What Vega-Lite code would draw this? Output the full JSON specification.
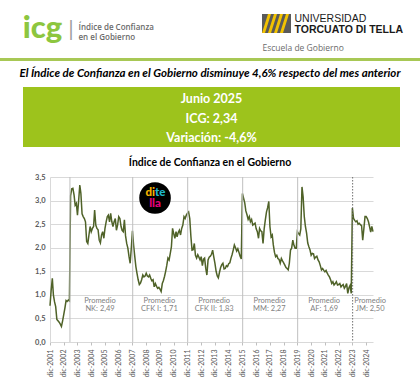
{
"$schema": "https://vega.github.io/schema/vega-lite/v6.json",
"padding": 0,
"background": "white",
"config": {"view": {"stroke": null}, "text": {"font": "Lato"}, "concat": {"spacing": 0}, "axis": {"labelOverlap": false}},
"spacing": 0,
"vconcat": [
 {"hconcat": [
   {"width": 21, "height": 58, "data": {"values": []}, "mark": "text"},
   {"width": 43, "height": 58, "data": {"values": [{"t": "icg"}]}, "mark": {"type": "text", "font": "Lato", "fontWeight": 900, "fontSize": 31, "color": "#8DC63F", "align": "center", "baseline": "middle"}, "encoding": {"text": {"field": "t"}}},
   {"width": 14, "height": 58, "data": {"values": [{"t": "|"}]}, "mark": {"type": "text", "font": "Lato", "fontSize": 22, "color": "#A0A0A0", "align": "center", "baseline": "middle"}, "encoding": {"text": {"field": "t"}}},
   {"width": 1, "height": 58, "data": {"values": [{"a": "Índice de Confianza", "b": "en el Gobierno"}]}, "layer": [
     {"mark": {"type": "text", "font": "Open Sans", "fontWeight": 600, "fontSize": 8, "letterSpacing": 0.3, "color": "#6B6B6B", "align": "left", "baseline": "line-bottom", "lineHeight": 3}, "encoding": {"text": {"field": "a"}}},
     {"mark": {"type": "text", "font": "Open Sans", "fontWeight": 600, "fontSize": 8, "letterSpacing": 0.3, "color": "#6B6B6B", "align": "left", "baseline": "line-top", "lineHeight": 18}, "encoding": {"text": {"field": "b"}}}
   ]},
   {"width": 183, "height": 58, "data": {"values": []}, "mark": "text"},
   {"width": 1, "height": 58, "data": {"values": [{"t": "Escuela de Gobierno"}]}, "layer": [
     {"mark": {"type": "point", "shape": "M-0.05,-1.5H2.85V0.4H-0.05Z", "size": 400, "filled": true, "color": "#5A5A5A", "opacity": 1}},
     {"mark": {"type": "point", "shape": "M0.55,-1.5L0.85,-1.5L0.25,0.4L-0.05,0.4ZM1.15,-1.5L1.45,-1.5L0.85,0.4L0.55,0.4ZM1.75,-1.5L2.05,-1.5L1.45,0.4L1.15,0.4ZM2.35,-1.5L2.65,-1.5L2.05,0.4L1.75,0.4Z", "size": 400, "filled": true, "color": "#F2C200", "opacity": 1}},
     {"mark": {"type": "text", "font": "Open Sans", "fontSize": 8.5, "letterSpacing": 0.6, "color": "#6B6B6B", "align": "left", "baseline": "line-top", "lineHeight": 38.5}, "encoding": {"text": {"field": "t"}}}
   ]},
   {"width": 31, "height": 58, "data": {"values": []}, "mark": "text"},
   {"width": 1, "height": 58, "data": {"values": [{"a": "UNIVERSIDAD", "b": "TORCUATO DI TELLA"}]}, "layer": [
     {"mark": {"type": "text", "font": "Liberation Sans", "fontSize": 10.5, "color": "#1A1A1A", "align": "left", "baseline": "line-bottom", "lineHeight": 19.6}, "encoding": {"text": {"field": "a"}}},
     {"mark": {"type": "text", "font": "Liberation Sans", "fontWeight": "bold", "fontSize": 10.5, "color": "#1A1A1A", "align": "left", "baseline": "line-top", "lineHeight": 2.4}, "encoding": {"text": {"field": "b"}}}
   ]}
 ], "spacing": 0, "bounds": "flush"},
 {"width": 420, "height": 3, "view": {"fill": "#A8C855"}, "data": {"values": []}, "mark": "text"},
 {"width": 420, "height": 26, "data": {"values": [{"t": "El Índice de Confianza en el Gobierno disminuye 4,6% respecto del mes anterior"}]}, "mark": {"type": "text", "font": "Lato", "fontWeight": "bold", "fontStyle": "italic", "fontSize": 11.5, "color": "#000000", "align": "center", "baseline": "middle"}, "encoding": {"text": {"field": "t"}}},
 {"hconcat": [
   {"width": 23, "height": 60, "data": {"values": []}, "mark": "text"},
   {"width": 377, "height": 60, "view": {"fill": "#9DC31C"}, "data": {"values": [{"a": "Junio 2025", "b": "ICG: 2,34", "c": "Variación: -4,6%"}]}, "layer": [
     {"mark": {"type": "text", "font": "Lato", "fontWeight": "bold", "fontSize": 12.5, "color": "#FFFFFF", "align": "center", "baseline": "line-bottom", "lineHeight": 34.4}, "encoding": {"text": {"field": "a"}}},
     {"mark": {"type": "text", "font": "Lato", "fontWeight": "bold", "fontSize": 12.5, "color": "#FFFFFF", "align": "center", "baseline": "line-top", "lineHeight": 5.6}, "encoding": {"text": {"field": "b"}}},
     {"mark": {"type": "text", "font": "Lato", "fontWeight": "bold", "fontSize": 12.5, "color": "#FFFFFF", "align": "center", "baseline": "line-top", "lineHeight": 43.6}, "encoding": {"text": {"field": "c"}}}
   ]}
 ], "spacing": 0, "bounds": "flush"},
 {"width": 420, "height": 26, "data": {"values": [{"t": "Índice de Confianza en el Gobierno"}]}, "mark": {"type": "text", "font": "Lato", "fontWeight": "bold", "fontSize": 10.5, "color": "#000000", "align": "center", "baseline": "line-top", "lineHeight": 5.5}, "encoding": {"text": {"field": "t"}}},
 {"hconcat": [
   {"width": 50, "height": 165, "data": {"values": []}, "mark": "text"},
   {"width": 323, "height": 165, "layer": [
     {"data": {"values": [
{"d":"2001-12","v":0.77},{"d":"2002-01","v":1.10},{"d":"2002-02","v":1.35},{"d":"2002-03","v":1.00},{"d":"2002-04","v":0.85},{"d":"2002-05","v":0.75},{"d":"2002-06","v":0.48},{"d":"2002-07","v":0.45},{"d":"2002-08","v":0.42},{"d":"2002-09","v":0.38},{"d":"2002-10","v":0.33},{"d":"2002-11","v":0.45},{"d":"2002-12","v":0.58},
{"d":"2003-01","v":0.72},{"d":"2003-02","v":0.88},{"d":"2003-03","v":0.86},{"d":"2003-04","v":0.89},{"d":"2003-05","v":0.87},{"d":"2003-06","v":3.10},{"d":"2003-07","v":3.25},{"d":"2003-08","v":3.26},{"d":"2003-09","v":3.12},{"d":"2003-10","v":2.90},{"d":"2003-11","v":2.94},{"d":"2003-12","v":2.69},
{"d":"2004-01","v":3.00},{"d":"2004-02","v":3.33},{"d":"2004-03","v":3.15},{"d":"2004-04","v":2.72},{"d":"2004-05","v":2.66},{"d":"2004-06","v":2.62},{"d":"2004-07","v":2.55},{"d":"2004-08","v":2.13},{"d":"2004-09","v":2.09},{"d":"2004-10","v":2.27},{"d":"2004-11","v":2.45},{"d":"2004-12","v":2.34},
{"d":"2005-01","v":2.41},{"d":"2005-02","v":2.45},{"d":"2005-03","v":2.80},{"d":"2005-04","v":2.48},{"d":"2005-05","v":2.41},{"d":"2005-06","v":2.38},{"d":"2005-07","v":2.16},{"d":"2005-08","v":2.10},{"d":"2005-09","v":2.27},{"d":"2005-10","v":2.34},{"d":"2005-11","v":2.20},{"d":"2005-12","v":2.41},
{"d":"2006-01","v":2.55},{"d":"2006-02","v":2.66},{"d":"2006-03","v":2.69},{"d":"2006-04","v":2.55},{"d":"2006-05","v":2.73},{"d":"2006-06","v":2.55},{"d":"2006-07","v":2.45},{"d":"2006-08","v":2.55},{"d":"2006-09","v":2.62},{"d":"2006-10","v":2.37},{"d":"2006-11","v":2.48},{"d":"2006-12","v":2.66},
{"d":"2007-01","v":2.62},{"d":"2007-02","v":2.45},{"d":"2007-03","v":2.37},{"d":"2007-04","v":2.34},{"d":"2007-05","v":2.59},{"d":"2007-06","v":2.25},{"d":"2007-07","v":2.09},{"d":"2007-08","v":1.99},{"d":"2007-09","v":1.81},{"d":"2007-10","v":1.67},{"d":"2007-11","v":2.00},{"d":"2007-12","v":2.36},
{"d":"2008-01","v":2.05},{"d":"2008-02","v":1.81},{"d":"2008-03","v":1.60},{"d":"2008-04","v":1.45},{"d":"2008-05","v":1.32},{"d":"2008-06","v":1.22},{"d":"2008-07","v":1.25},{"d":"2008-08","v":1.32},{"d":"2008-09","v":1.42},{"d":"2008-10","v":1.38},{"d":"2008-11","v":1.40},{"d":"2008-12","v":1.46},
{"d":"2009-01","v":1.40},{"d":"2009-02","v":1.38},{"d":"2009-03","v":1.42},{"d":"2009-04","v":1.35},{"d":"2009-05","v":1.30},{"d":"2009-06","v":1.32},{"d":"2009-07","v":1.17},{"d":"2009-08","v":1.24},{"d":"2009-09","v":1.18},{"d":"2009-10","v":1.14},{"d":"2009-11","v":1.16},{"d":"2009-12","v":1.12},
{"d":"2010-01","v":1.07},{"d":"2010-02","v":1.24},{"d":"2010-03","v":1.30},{"d":"2010-04","v":1.39},{"d":"2010-05","v":1.50},{"d":"2010-06","v":1.63},{"d":"2010-07","v":1.78},{"d":"2010-08","v":1.74},{"d":"2010-09","v":1.88},{"d":"2010-10","v":2.02},{"d":"2010-11","v":2.41},{"d":"2010-12","v":2.30},
{"d":"2011-01","v":2.20},{"d":"2011-02","v":2.34},{"d":"2011-03","v":2.23},{"d":"2011-04","v":2.32},{"d":"2011-05","v":2.37},{"d":"2011-06","v":2.27},{"d":"2011-07","v":2.41},{"d":"2011-08","v":2.48},{"d":"2011-09","v":2.66},{"d":"2011-10","v":2.62},{"d":"2011-11","v":2.69},{"d":"2011-12","v":2.73},
{"d":"2012-01","v":2.76},{"d":"2012-02","v":2.62},{"d":"2012-03","v":2.25},{"d":"2012-04","v":1.95},{"d":"2012-05","v":1.96},{"d":"2012-06","v":2.09},{"d":"2012-07","v":1.84},{"d":"2012-08","v":1.78},{"d":"2012-09","v":1.85},{"d":"2012-10","v":1.80},{"d":"2012-11","v":1.74},{"d":"2012-12","v":1.81},
{"d":"2013-01","v":1.62},{"d":"2013-02","v":1.76},{"d":"2013-03","v":1.78},{"d":"2013-04","v":1.56},{"d":"2013-05","v":1.42},{"d":"2013-06","v":1.74},{"d":"2013-07","v":1.80},{"d":"2013-08","v":1.82},{"d":"2013-09","v":1.86},{"d":"2013-10","v":1.95},{"d":"2013-11","v":1.80},{"d":"2013-12","v":1.67},
{"d":"2014-01","v":1.50},{"d":"2014-02","v":1.40},{"d":"2014-03","v":1.36},{"d":"2014-04","v":1.48},{"d":"2014-05","v":1.58},{"d":"2014-06","v":1.64},{"d":"2014-07","v":1.67},{"d":"2014-08","v":1.55},{"d":"2014-09","v":1.56},{"d":"2014-10","v":1.62},{"d":"2014-11","v":1.60},{"d":"2014-12","v":1.66},
{"d":"2015-01","v":1.68},{"d":"2015-02","v":1.78},{"d":"2015-03","v":1.85},{"d":"2015-04","v":1.95},{"d":"2015-05","v":2.06},{"d":"2015-06","v":2.00},{"d":"2015-07","v":1.93},{"d":"2015-08","v":1.98},{"d":"2015-09","v":1.90},{"d":"2015-10","v":1.82},{"d":"2015-11","v":1.76},{"d":"2015-12","v":3.15},
{"d":"2016-01","v":3.05},{"d":"2016-02","v":2.95},{"d":"2016-03","v":2.78},{"d":"2016-04","v":2.70},{"d":"2016-05","v":2.60},{"d":"2016-06","v":2.66},{"d":"2016-07","v":2.55},{"d":"2016-08","v":2.60},{"d":"2016-09","v":2.48},{"d":"2016-10","v":2.50},{"d":"2016-11","v":2.52},{"d":"2016-12","v":2.40},
{"d":"2017-01","v":2.34},{"d":"2017-02","v":2.20},{"d":"2017-03","v":2.41},{"d":"2017-04","v":2.36},{"d":"2017-05","v":2.34},{"d":"2017-06","v":2.09},{"d":"2017-07","v":2.40},{"d":"2017-08","v":2.59},{"d":"2017-09","v":2.76},{"d":"2017-10","v":2.85},{"d":"2017-11","v":2.98},{"d":"2017-12","v":2.45},
{"d":"2018-01","v":2.23},{"d":"2018-02","v":2.27},{"d":"2018-03","v":2.06},{"d":"2018-04","v":1.90},{"d":"2018-05","v":1.81},{"d":"2018-06","v":1.84},{"d":"2018-07","v":1.77},{"d":"2018-08","v":1.75},{"d":"2018-09","v":1.67},{"d":"2018-10","v":1.77},{"d":"2018-11","v":1.72},{"d":"2018-12","v":1.68},
{"d":"2019-01","v":1.63},{"d":"2019-02","v":1.58},{"d":"2019-03","v":1.56},{"d":"2019-04","v":1.53},{"d":"2019-05","v":1.67},{"d":"2019-06","v":1.95},{"d":"2019-07","v":1.99},{"d":"2019-08","v":2.16},{"d":"2019-09","v":2.05},{"d":"2019-10","v":1.99},{"d":"2019-11","v":1.99},{"d":"2019-12","v":2.34},
{"d":"2020-01","v":2.30},{"d":"2020-02","v":2.27},{"d":"2020-03","v":2.40},{"d":"2020-04","v":3.29},{"d":"2020-05","v":3.08},{"d":"2020-06","v":2.66},{"d":"2020-07","v":2.45},{"d":"2020-08","v":2.31},{"d":"2020-09","v":2.10},{"d":"2020-10","v":2.02},{"d":"2020-11","v":1.95},{"d":"2020-12","v":1.84},
{"d":"2021-01","v":1.88},{"d":"2021-02","v":1.87},{"d":"2021-03","v":1.77},{"d":"2021-04","v":1.80},{"d":"2021-05","v":1.82},{"d":"2021-06","v":1.74},{"d":"2021-07","v":1.70},{"d":"2021-08","v":1.62},{"d":"2021-09","v":1.53},{"d":"2021-10","v":1.56},{"d":"2021-11","v":1.52},{"d":"2021-12","v":1.49},
{"d":"2022-01","v":1.52},{"d":"2022-02","v":1.46},{"d":"2022-03","v":1.42},{"d":"2022-04","v":1.38},{"d":"2022-05","v":1.32},{"d":"2022-06","v":1.24},{"d":"2022-07","v":1.28},{"d":"2022-08","v":1.21},{"d":"2022-09","v":1.24},{"d":"2022-10","v":1.28},{"d":"2022-11","v":1.21},{"d":"2022-12","v":1.22},
{"d":"2023-01","v":1.24},{"d":"2023-02","v":1.17},{"d":"2023-03","v":1.20},{"d":"2023-04","v":1.22},{"d":"2023-05","v":1.14},{"d":"2023-06","v":1.18},{"d":"2023-07","v":1.24},{"d":"2023-08","v":1.03},{"d":"2023-09","v":1.15},{"d":"2023-10","v":1.20},{"d":"2023-11","v":1.03},{"d":"2023-12","v":2.84},
{"d":"2024-01","v":2.62},{"d":"2024-02","v":2.58},{"d":"2024-03","v":2.55},{"d":"2024-04","v":2.57},{"d":"2024-05","v":2.50},{"d":"2024-06","v":2.52},{"d":"2024-07","v":2.49},{"d":"2024-08","v":2.47},{"d":"2024-09","v":2.16},{"d":"2024-10","v":2.40},{"d":"2024-11","v":2.66},{"d":"2024-12","v":2.66},
{"d":"2025-01","v":2.62},{"d":"2025-02","v":2.55},{"d":"2025-03","v":2.45},{"d":"2025-04","v":2.33},{"d":"2025-05","v":2.45},{"d":"2025-06","v":2.34}
     ]},
      "mark": {"type": "line", "color": "#4F6228", "strokeWidth": 1.5},
      "encoding": {
        "x": {"field": "d", "type": "temporal", "title": null, "scale": {"domain": [{"year": 2001, "month": 12, "date": 1, "utc": true}, {"year": 2025, "month": 6, "date": 1, "utc": true}]},
              "axis": {"title": null, "grid": false, "domain": false, "ticks": true, "tickSize": 3, "tickColor": "#BFBFBF", "tickCount": 100, "labelAngle": -90, "labelFont": "Lato", "labelFontSize": 7, "labelColor": "#595959", "labelPadding": 4, "labelFlush": false, "labelOverlap": false, "labelBound": false,
                       "labelExpr": "'dic-' + utcFormat(datum.value, '%Y')",
                       "values": [{"year":2001,"month":12,"date":1,"utc":true},{"year":2002,"month":12,"date":1,"utc":true},{"year":2003,"month":12,"date":1,"utc":true},{"year":2004,"month":12,"date":1,"utc":true},{"year":2005,"month":12,"date":1,"utc":true},{"year":2006,"month":12,"date":1,"utc":true},{"year":2007,"month":12,"date":1,"utc":true},{"year":2008,"month":12,"date":1,"utc":true},{"year":2009,"month":12,"date":1,"utc":true},{"year":2010,"month":12,"date":1,"utc":true},{"year":2011,"month":12,"date":1,"utc":true},{"year":2012,"month":12,"date":1,"utc":true},{"year":2013,"month":12,"date":1,"utc":true},{"year":2014,"month":12,"date":1,"utc":true},{"year":2015,"month":12,"date":1,"utc":true},{"year":2016,"month":12,"date":1,"utc":true},{"year":2017,"month":12,"date":1,"utc":true},{"year":2018,"month":12,"date":1,"utc":true},{"year":2019,"month":12,"date":1,"utc":true},{"year":2020,"month":12,"date":1,"utc":true},{"year":2021,"month":12,"date":1,"utc":true},{"year":2022,"month":12,"date":1,"utc":true},{"year":2023,"month":12,"date":1,"utc":true},{"year":2024,"month":12,"date":1,"utc":true}]}},
        "y": {"field": "v", "type": "quantitative", "title": null, "scale": {"domain": [0, 3.5], "nice": false, "zero": true},
              "axis": {"title": null, "values": [0, 0.5, 1, 1.5, 2, 2.5, 3, 3.5], "tickCount": 100, "grid": true, "gridColor": "#D9D9D9", "domain": true, "domainColor": "#D9D9D9", "ticks": false, "labelOverlap": false, "labelFont": "Lato", "labelFontSize": 7.5, "labelFontWeight": "bold", "labelColor": "#595959", "labelPadding": 5,
                       "labelExpr": "replace(format(datum.value, '.1f'), '.', ',')"}}
      }},
     {"data": {"values": [{"d": "2003-05-15"}, {"d": "2007-12-08"}, {"d": "2011-12-08"}, {"d": "2015-12-08"}, {"d": "2019-12-08"}]},
      "mark": {"type": "rule", "color": "#BFBFBF", "strokeWidth": 1},
      "encoding": {"x": {"field": "d", "type": "temporal", "title": null}}},
     {"data": {"values": [{"d": "2023-12-08"}]},
      "mark": {"type": "rule", "color": "#6F6F6F", "strokeWidth": 1, "strokeDash": [1.5, 1.5]},
      "encoding": {"x": {"field": "d", "type": "temporal", "title": null}}},
     {"data": {"values": [
        {"d": "2005-07-22", "v": 0.876, "t": "Promedio\nNK: 2,49"},
        {"d": "2009-11-15", "v": 0.876, "t": "Promedio\nCFK I: 1,71"},
        {"d": "2013-11-10", "v": 0.876, "t": "Promedio\nCFK II: 1,83"},
        {"d": "2017-11-15", "v": 0.876, "t": "Promedio\nMM: 2,27"},
        {"d": "2021-11-10", "v": 0.876, "t": "Promedio\nAF: 1,69"},
        {"d": "2025-03-18", "v": 0.876, "t": "Promedio\nJM: 2,50"}]},
      "mark": {"type": "text", "font": "Lato", "fontSize": 7.5, "color": "#7F7F7F", "align": "center", "baseline": "middle", "lineBreak": "\n", "lineHeight": 8.5},
      "encoding": {"x": {"field": "d", "type": "temporal", "title": null}, "y": {"field": "v", "type": "quantitative", "title": null}, "text": {"field": "t"}}},
     {"data": {"values": [{"d": "2009-07-23", "v": 3.055}]},
      "encoding": {"x": {"field": "d", "type": "temporal", "title": null}, "y": {"field": "v", "type": "quantitative", "title": null}},
      "layer": [
        {"mark": {"type": "point", "shape": "circle", "filled": true, "color": "#000000", "opacity": 1, "size": 1000}},
        {"mark": {"type": "text", "text": "di", "font": "Lato", "fontWeight": 900, "fontSize": 11.5, "color": "#F5B400", "align": "right", "baseline": "bottom"}},
        {"mark": {"type": "text", "text": "te", "font": "Lato", "fontWeight": 900, "fontSize": 11.5, "color": "#1EB8C8", "align": "left", "baseline": "bottom"}},
        {"mark": {"type": "text", "text": "lla", "font": "Lato", "fontWeight": 900, "fontSize": 11.5, "color": "#E5007D", "align": "center", "baseline": "top"}}
      ]}
   ]}
 ], "spacing": 0, "bounds": "flush"}
]
}
